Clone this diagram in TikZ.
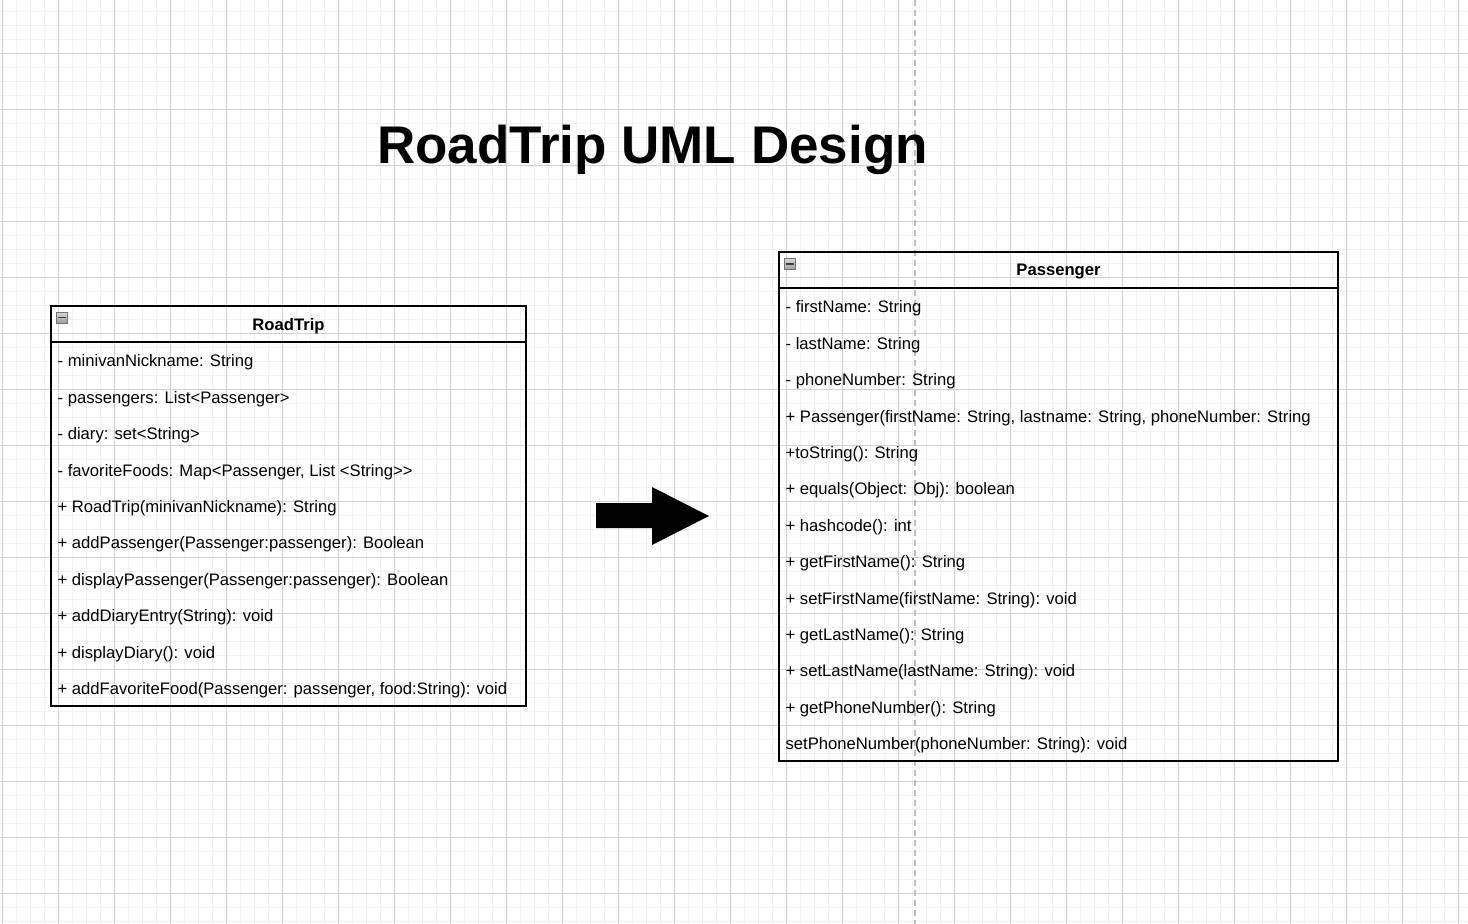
\documentclass[tikz,border=0pt]{standalone}
\usepackage{fontspec}
\setmainfont{Liberation Sans}
\usepackage{xcolor}
\usepackage{tikz}
\usetikzlibrary{positioning}

\definecolor{gridminor}{gray}{0.945}
\definecolor{gridmajor}{gray}{0.82}
\definecolor{guide}{gray}{0.74}
\definecolor{iconfill}{gray}{0.62}
\definecolor{iconline}{gray}{0.45}

\begin{document}
\begin{tikzpicture}[
    x=1pt, y=-1pt,
    % Class header (name compartment)
    classhead/.style={
        rectangle, draw=black, line width=1.2pt, outer sep=0pt,
        minimum height=36pt, inner sep=0pt, text depth=0pt,
        font=\fontsize{16.65}{20}\selectfont\bfseries
    },
    % Class body (member compartment)
    classbody/.style={
        rectangle, draw=black, line width=1.2pt, outer sep=0pt, inner sep=0pt
    },
    % One member line
    member/.style={
        anchor=base west, inner sep=0pt,
        font=\fontsize{16.65}{20}\selectfont
    },
    % Collapse icon in the header
    collapse/.style={
        rectangle, draw=iconline, line width=0.6pt, top color=white!85!black,
        bottom color=iconfill, minimum size=11pt, inner sep=0pt
    },
    % Title
    title/.style={
        anchor=base, inner sep=0pt,
        font=\fontsize{53}{60}\selectfont\bfseries
    },
]

\useasboundingbox (0,0) rectangle (1468,924);
\fill[white] (0,0) rectangle (1468,924);

% ===== GRID =====
\foreach \gx in {2.3, 16.3, ..., 1468}
    \draw[gridminor, line width=1pt] (\gx,0) -- (\gx,924);
\foreach \gy in {11.3, 25.3, ..., 924}
    \draw[gridminor, line width=1pt] (0,\gy) -- (1468,\gy);
\foreach \gx in {2.3, 58.3, ..., 1468}
    \draw[gridmajor, line width=1pt] (\gx,0) -- (\gx,924);
\foreach \gy in {53.3, 109.3, ..., 924}
    \draw[gridmajor, line width=1pt] (0,\gy) -- (1468,\gy);

% page guide
\draw[guide, line width=1.5pt, dash pattern=on 6pt off 4pt] (915,0) -- (915,924);

% ===== TITLE =====
\node[title] (title) at (652.5, 163) {RoadTrip UML Design};

% ===== ROADTRIP CLASS =====
\node[classhead, minimum width=475pt] (rt_head) at (288.5, 324) {RoadTrip};
\node[classbody, minimum width=475pt, minimum height=364pt, below=0pt of rt_head] (rt_body) {};
\node[collapse] (rt_icon) at (62, 317.5) {};
\draw[black!75, line width=1.6pt] ([xshift=2pt]rt_icon.west) -- ([xshift=-2pt]rt_icon.east);

\node[member] (rt_m1) at (57.4, 366.8) {- minivanNickname: String};
\node[member] (rt_m2) at (57.4, 403.2) {- passengers: List<Passenger>};
\node[member] (rt_m3) at (57.4, 439.6) {- diary: set<String>};
\node[member] (rt_m4) at (57.4, 476.0) {- favoriteFoods: Map<Passenger, List <String>{}>};
\node[member] (rt_m5) at (57.4, 512.4) {+ RoadTrip(minivanNickname): String};
\node[member] (rt_m6) at (57.4, 548.8) {+ addPassenger(Passenger:passenger): Boolean};
\node[member] (rt_m7) at (57.4, 585.2) {+ displayPassenger(Passenger:passenger): Boolean};
\node[member] (rt_m8) at (57.4, 621.6) {+ addDiaryEntry(String): void};
\node[member] (rt_m9) at (57.4, 658.0) {+ displayDiary(): void};
\node[member] (rt_m10) at (57.4, 694.4) {+ addFavoriteFood(Passenger: passenger, food:String): void};

% ===== ARROW =====
\fill[black] (596,503) -- (652,503) -- (652,487) -- (709,516)
    -- (652,545) -- (652,528) -- (596,528) -- cycle;

% ===== PASSENGER CLASS =====
\node[classhead, minimum width=559pt] (ps_head) at (1058.5, 270) {Passenger};
\node[classbody, minimum width=559pt, minimum height=473pt, below=0pt of ps_head] (ps_body) {};
\node[collapse] (ps_icon) at (790, 264) {};
\draw[black!75, line width=1.6pt] ([xshift=2pt]ps_icon.west) -- ([xshift=-2pt]ps_icon.east);

\node[member] (ps_m1) at (785.4, 312.8) {- firstName: String};
\node[member] (ps_m2) at (785.4, 349.2) {- lastName: String};
\node[member] (ps_m3) at (785.4, 385.6) {- phoneNumber: String};
\node[member] (ps_m4) at (785.4, 422.0) {+ Passenger(firstName: String, lastname: String, phoneNumber: String};
\node[member] (ps_m5) at (785.4, 458.4) {+toString(): String};
\node[member] (ps_m6) at (785.4, 494.8) {+ equals(Object: Obj): boolean};
\node[member] (ps_m7) at (785.4, 531.2) {+ hashcode(): int};
\node[member] (ps_m8) at (785.4, 567.6) {+ getFirstName(): String};
\node[member] (ps_m9) at (785.4, 604.0) {+ setFirstName(firstName: String): void};
\node[member] (ps_m10) at (785.4, 640.4) {+ getLastName(): String};
\node[member] (ps_m11) at (785.4, 676.8) {+ setLastName(lastName: String): void};
\node[member] (ps_m12) at (785.4, 713.2) {+ getPhoneNumber(): String};
\node[member] (ps_m13) at (785.4, 749.6) {setPhoneNumber(phoneNumber: String): void};

\end{tikzpicture}
\end{document}
